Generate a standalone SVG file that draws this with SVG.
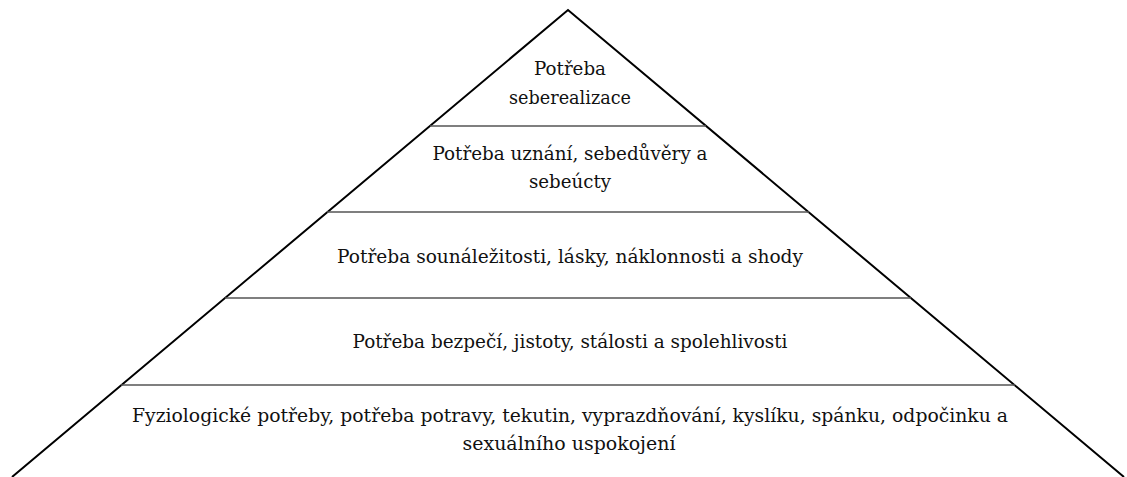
<svg xmlns="http://www.w3.org/2000/svg" width="1127" height="477" viewBox="0 0 1127 477">
<style>
.edge{stroke:#000;stroke-width:2;fill:none}
.div{stroke:#555;stroke-width:1.5}
text{font-family:'DejaVu Serif','Liberation Serif',serif;font-size:19px;fill:#111;text-anchor:middle}
</style>
<rect width="1127" height="477" fill="#fff"/>
<g id="connectors">
<polyline class="edge" points="12,477 568,10 1124,477"/>
<line class="div" x1="430" y1="126" x2="706" y2="126"/>
<line class="div" x1="327" y1="212" x2="809" y2="212"/>
<line class="div" x1="225" y1="298" x2="911" y2="298"/>
<line class="div" x1="121" y1="385" x2="1015" y2="385"/>
</g>
<g id="tier1"><text x="570" y="75" textLength="72" lengthAdjust="spacingAndGlyphs">Potřeba</text><text x="570" y="104" textLength="122" lengthAdjust="spacingAndGlyphs">seberealizace</text></g>
<g id="tier2"><text x="570" y="160" textLength="275" lengthAdjust="spacingAndGlyphs">Potřeba uznání, sebedůvěry a</text><text x="570" y="188" textLength="82" lengthAdjust="spacingAndGlyphs">sebeúcty</text></g>
<g id="tier3"><text x="570" y="263" textLength="466" lengthAdjust="spacingAndGlyphs">Potřeba sounáležitosti, lásky, náklonnosti a shody</text></g>
<g id="tier4"><text x="570" y="348" textLength="435" lengthAdjust="spacingAndGlyphs">Potřeba bezpečí, jistoty, stálosti a spolehlivosti</text></g>
<g id="tier5"><text x="570" y="422" textLength="876" lengthAdjust="spacingAndGlyphs">Fyziologické potřeby, potřeba potravy, tekutin, vyprazdňování, kyslíku, spánku, odpočinku a</text><text x="569" y="450" textLength="213" lengthAdjust="spacingAndGlyphs">sexuálního uspokojení</text></g>
</svg>
